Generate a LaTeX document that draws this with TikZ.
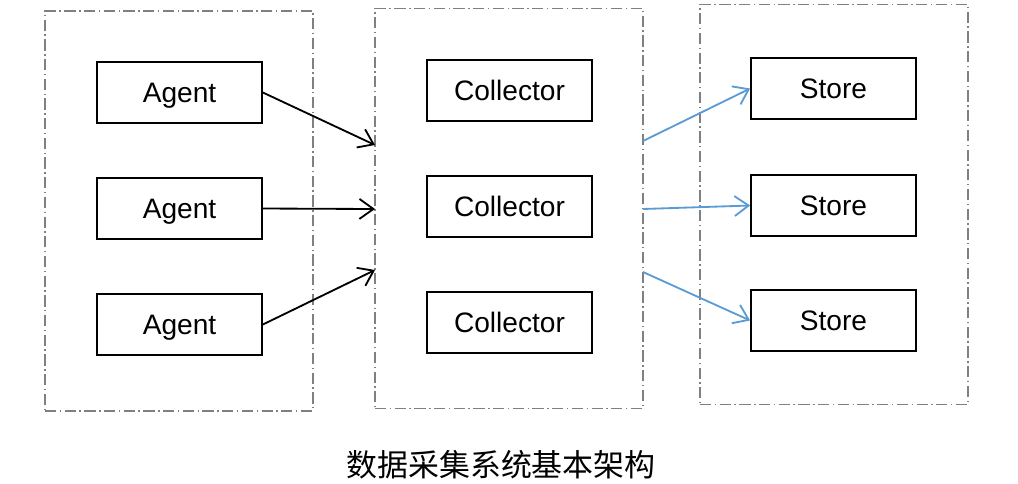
\documentclass[tikz,border=0pt]{standalone}
\usepackage{fontspec}
\setmainfont{Liberation Sans}
\newfontfamily\cjkfont{Noto Sans CJK SC}
\usepackage{tikz}
\usetikzlibrary{positioning, arrows.meta}
\definecolor{linkblue}{HTML}{5B9BD5}

\begin{document}
\begin{tikzpicture}[
    x=0.025cm, y=-0.025cm,
    box/.style={draw, line width=1.2pt, minimum width=4.125cm, minimum height=1.525cm, inner sep=0pt, text depth=0pt, font=\fontsize{20}{24}\selectfont},
    group/.style={draw=gray, line width=0.9pt, dash pattern=on 8pt off 2.5pt on 1pt off 2.5pt, minimum width=6.7cm, minimum height=10cm, inner sep=0pt},
    arrow/.style={-{Straight Barb[length=3.5mm, width=5mm]}, line width=1.3pt}
]
    \useasboundingbox (0,0) rectangle (1018,483);

    % === Groups ===
    \node[group] (agents) at (179,211) {};
    \node[group] (collectors) at (509,208.5) {};
    \node[group] (stores) at (834,204.5) {};

    % Agents
    \node[box] (agent1) at (179.5,92.5) {Agent};
    \node[box] (agent2) at (179.5,208.5) {Agent};
    \node[box] (agent3) at (179.5,324.5) {Agent};

    % Collectors
    \node[box] (coll1) at (509.5,90.5) {Collector};
    \node[box] (coll2) at (509.5,206.5) {Collector};
    \node[box] (coll3) at (509.5,322.5) {Collector};

    % Stores
    \node[box] (store1) at (833.5,88.5) {Store};
    \node[box] (store2) at (833.5,205.5) {Store};
    \node[box] (store3) at (833.5,320.5) {Store};

    % Arrow ends on the group frames
    \coordinate (in1) at (375,145);
    \coordinate (in2) at (375,209);
    \coordinate (in3) at (375,270);
    \coordinate (out1) at (643,141);
    \coordinate (out2) at (643,209);
    \coordinate (out3) at (643,272);

    % Agent -> Collector
    \draw[arrow] (agent1.east) -- (in1);
    \draw[arrow] (agent2.east) -- (in2);
    \draw[arrow] (agent3.east) -- (in3);

    % Collector -> Store
    \draw[arrow, linkblue] (out1) -- (store1.west);
    \draw[arrow, linkblue] (out2) -- (store2.west);
    \draw[arrow, linkblue] (out3) -- (store3.west);

    % Caption
    \node[font=\cjkfont\fontsize{22}{26}\selectfont] (caption) at (501,465) {数据采集系统基本架构};

\end{tikzpicture}
\end{document}
